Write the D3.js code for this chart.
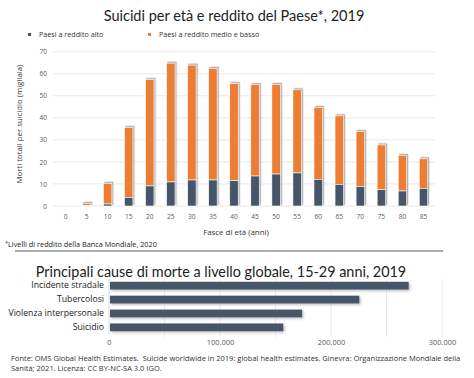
<!DOCTYPE html>
<html><head><meta charset="utf-8">
<script src="https://cdn.jsdelivr.net/npm/d3@7"></script>
<style>
body{margin:0;background:#fff;}
svg{display:block;font-family:"Open Sans",sans-serif;}
</style></head>
<body>
<script>
const ages = ["0","5","10","15","20","25","30","35","40","45","50","55","60","65","70","75","80","85"];
const highIncome = [0,0.2,0.9,3.9,9.1,10.9,11.8,11.8,11.5,13.6,14.5,15.0,12.1,9.8,8.8,7.4,6.8,8.0];
const lowMidIncome = [0,1.0,9.4,31.7,48.2,53.9,52.1,50.6,44.0,41.4,40.7,37.7,32.6,31.1,25.0,20.3,16.2,13.4];
const yTicks = [0,10,20,30,40,50,60,70];
const seriesNames = ["Paesi a reddito alto","Paesi a reddito medio e basso"];
const causes = ["Incidente stradale","Tubercolosi","Violenza interpersonale","Suicidio"];
const deaths = [270000,225500,174000,157000];
const xTicks2 = [0,100000,200000,300000];

const W=474,H=378;
const dark="#44546A", orange="#ED7D31", grid="#e3e3e3", txt="#595959";
const OS="Open Sans", LA="Lato";
const svg=d3.select("body").append("svg").attr("width",W).attr("height",H);
const defs=svg.append("defs");
const f1=defs.append("filter").attr("id","sh1").attr("x","-50%").attr("y","-50%").attr("width","200%").attr("height","200%");
f1.append("feDropShadow").attr("dx",1.3).attr("dy",-1.3).attr("stdDeviation",0.6).attr("flood-color","#888").attr("flood-opacity",0.7);
const f2=defs.append("filter").attr("id","sh2").attr("x","-10%").attr("y","-50%").attr("width","120%").attr("height","250%");
f2.append("feDropShadow").attr("dx",1.5).attr("dy",1.5).attr("stdDeviation",1.2).attr("flood-color","#999").attr("flood-opacity",0.6);

// Title 1
svg.append("text").attr("x",234).attr("y",21).attr("text-anchor","middle").attr("font-family",LA).attr("font-size",14.5).attr("fill","#222").text("Suicidi per età e reddito del Paese*, 2019");

// Legend
const leg=[{n:seriesNames[0],c:dark,x:28},{n:seriesNames[1],c:orange,x:148}];
leg.forEach(l=>{
  svg.append("rect").attr("x",l.x).attr("y",33).attr("width",3).attr("height",3).attr("fill",l.c);
  svg.append("text").attr("x",l.x+11).attr("y",37.3).attr("font-size",7.2).attr("fill","#333").text(l.n);
});

// Chart 1
const x=d3.scaleBand().domain(ages).range([55,434]).paddingInner(0.6).paddingOuter(0.3);
const y=d3.scaleLinear().domain([0,70]).range([206,51.7]);
const g=svg.append("g");
g.selectAll("line.grid").data(yTicks).join("line").attr("x1",53).attr("x2",435)
  .attr("y1",d=>y(d)).attr("y2",d=>y(d)).attr("stroke",grid).attr("stroke-width",0.8);
const yAxis=d3.axisLeft(y).tickValues(yTicks).tickSize(0).tickPadding(0);
const ya=g.append("g").attr("transform","translate(47,0)").call(yAxis);
ya.select(".domain").remove();
ya.selectAll("text").attr("font-size",6.6).attr("fill",txt).attr("font-family",OS);
const xAxis=d3.axisBottom(x).tickSize(0).tickPadding(0);
const xa=g.append("g").attr("transform","translate(0,214)").call(xAxis);
xa.select(".domain").remove();
xa.selectAll("text").attr("font-size",6.6).attr("fill",txt).attr("font-family",OS);

const bars=g.append("g").attr("filter","url(#sh1)");
ages.forEach((a,i)=>{
  const tot=highIncome[i]+lowMidIncome[i];
  if(tot<=0) return;
  bars.append("rect").attr("x",x(a)).attr("width",x.bandwidth()).attr("y",y(tot)).attr("height",y(highIncome[i])-y(tot))
    .attr("fill",orange).attr("stroke","#fff").attr("stroke-width",0.6);
  bars.append("rect").attr("x",x(a)).attr("width",x.bandwidth()).attr("y",y(highIncome[i])).attr("height",y(0)-y(highIncome[i]))
    .attr("fill",dark).attr("stroke","#fff").attr("stroke-width",0.6);
});

svg.append("text").attr("transform","translate(22,124) rotate(-90)").attr("text-anchor","middle").attr("font-size",7.8).attr("fill","#333").text("Morti totali per suicidio (migliaia)");
svg.append("text").attr("x",236).attr("y",234.5).attr("text-anchor","middle").attr("font-size",7.9).attr("fill","#333").text("Fasce di età (anni)");

const fn=svg.append("text").attr("x",5).attr("y",247).attr("font-size",7.3).attr("fill","#222");
fn.append("tspan").attr("dy",-2.5).attr("font-size",5.5).text("*");
fn.append("tspan").attr("dy",2.5).text("Livelli di reddito della Banca Mondiale, 2020");

svg.append("line").attr("x1",15).attr("x2",443).attr("y1",251).attr("y2",251).attr("stroke","#333").attr("stroke-width",0.8);

// Title 2
svg.append("text").attr("x",221).attr("y",277).attr("text-anchor","middle").attr("font-family",LA).attr("font-size",14.4).attr("fill","#222").text("Principali cause di morte a livello globale, 15-29 anni, 2019");

// Chart 2
const x2=d3.scaleLinear().domain([0,300000]).range([109,442]);
const y2=d3.scaleBand().domain(causes).range([279,334]).paddingInner(0.44).paddingOuter(0.2);
const g2=svg.append("g");
g2.selectAll("line.vg").data(d3.range(50000,300001,50000)).join("line")
  .attr("x1",d=>x2(d)).attr("x2",d=>x2(d)).attr("y1",279).attr("y2",337).attr("stroke",grid).attr("stroke-width",0.8);
g2.append("line").attr("x1",x2(0)).attr("x2",x2(0)).attr("y1",279).attr("y2",334).attr("stroke","#d0d0d0").attr("stroke-width",0.8);
const bg=g2.append("g").attr("filter","url(#sh2)");
bg.selectAll("rect").data(causes).join("rect").attr("x",x2(0)+1).attr("y",d=>y2(d)).attr("height",y2.bandwidth())
  .attr("width",(d,i)=>x2(deaths[i])-x2(0)-1).attr("fill",dark);
const ya2=g2.append("g").attr("transform","translate(104,0)").call(d3.axisLeft(y2).tickSize(0).tickPadding(0));
ya2.select(".domain").remove();
ya2.selectAll("text").attr("font-size",8.7).attr("fill","#222").attr("font-family",OS);
const xa2=g2.append("g").attr("transform","translate(0,339.5)").call(d3.axisBottom(x2).tickValues(xTicks2).tickSize(0).tickPadding(0)
  .tickFormat(d=>d===0?"0":d3.format(",")(d).replace(/,/g,".")));
xa2.select(".domain").remove();
xa2.selectAll("text").attr("font-size",7.5).attr("fill",txt).attr("font-family",OS);

// Source
const src=["Fonte: OMS Global Health Estimates.  Suicide worldwide in 2019: global health estimates. Ginevra: Organizzazione Mondiale della",
"Sanità; 2021. Licenza: CC BY-NC-SA 3.0 IGO."];
src.forEach((s,i)=>{
  svg.append("text").attr("x",11).attr("y",360.5+i*10.5).attr("font-size",7.5).attr("fill","#333").style("white-space","pre").text(s);
});
</script>
</body></html>
